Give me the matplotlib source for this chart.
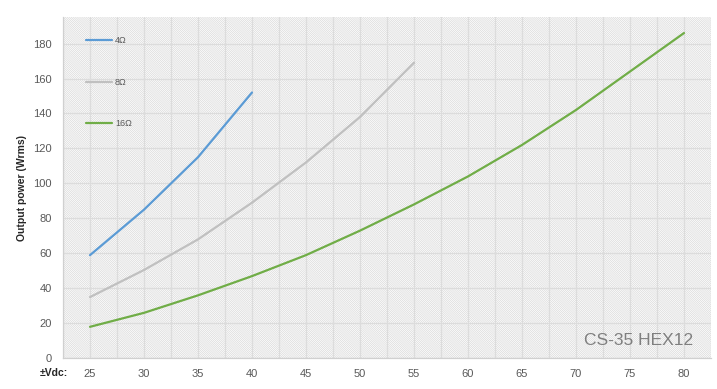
import matplotlib
matplotlib.use("Agg")
import matplotlib.pyplot as plt
from matplotlib.patches import Rectangle
import numpy as np

# supply voltage (±Vdc) and output power (Wrms) per load
vdc = [25, 30, 35, 40, 45, 50, 55, 60, 65, 70, 75, 80]
p_4ohm = [59, 85, 115, 152]
p_8ohm = [35, 50.5, 68, 89, 112, 138, 169]
p_16ohm = [18, 26, 36, 47, 59, 73, 88, 104, 122, 142, 164, 186]

labels = ["4\u03a9", "8\u03a9", "16\u03a9"]
colors = ["#5b9bd5", "#c0c0c0", "#70ad47"]
yticks = list(range(0, 181, 20))

plt.rcParams["font.family"] = ["Liberation Sans", "DejaVu Sans"]
plt.rcParams["hatch.linewidth"] = 0.5

fig = plt.figure(figsize=(7.17, 3.89), dpi=100)
ax = fig.add_axes([63 / 717, 1 - 358.3 / 389, 648 / 717, 341 / 389])

# hatched plot background
ax.add_patch(Rectangle((0, 0), 1, 1, transform=ax.transAxes, facecolor="white",
                       edgecolor="#d9d9d9", hatch="\\" * 16, lw=0, zorder=0))

series = [p_4ohm, p_8ohm, p_16ohm]
for vals, lab, col in zip(series, labels, colors):
    ax.plot(vdc[:len(vals)], vals, color=col, lw=1.6, label=lab, zorder=3,
            solid_capstyle="round")

ax.set_xlim(22.5, 82.5)
ax.set_ylim(0, 195)
ax.set_xticks(vdc)
ax.set_xticks(np.arange(22.5, 83, 5), minor=True)
ax.set_yticks(yticks)
ax.grid(True, which="both", color="#dcdcdc", lw=0.9, zorder=1)
ax.set_axisbelow(True)
ax.tick_params(which="both", length=0, labelsize=8, colors="#595959")
ax.tick_params(axis="y", pad=8)
ax.tick_params(axis="x", pad=8)
for s in ["top", "right"]:
    ax.spines[s].set_visible(False)
for s in ["left", "bottom"]:
    ax.spines[s].set_color("#d0d0d0")
    ax.spines[s].set_linewidth(0.9)

fig.text(22.5 / 717, 1 - 188 / 389, "Output power (Wrms)", rotation=90,
         ha="center", va="center", fontsize=7.5, fontweight="bold", color="#262626")
fig.text(40 / 717, 1 - 373 / 389, "\u00b1Vdc:", ha="left", va="center",
         fontsize=7.5, fontweight="bold", color="#262626")

ax.text(0.972, 0.052, "CS-35 HEX12", transform=ax.transAxes, ha="right", va="center",
        fontsize=12.5, color="#7f7f7f")

leg = ax.legend(loc="upper left", bbox_to_anchor=(23 / 648, 1 - 19 / 341),
                frameon=False, fontsize=6.5, handlelength=2.9, handletextpad=0.3,
                labelspacing=3.6, borderaxespad=0, borderpad=0)
for t in leg.get_texts():
    t.set_color("#595959")

fig.savefig("out.png", dpi=100)
